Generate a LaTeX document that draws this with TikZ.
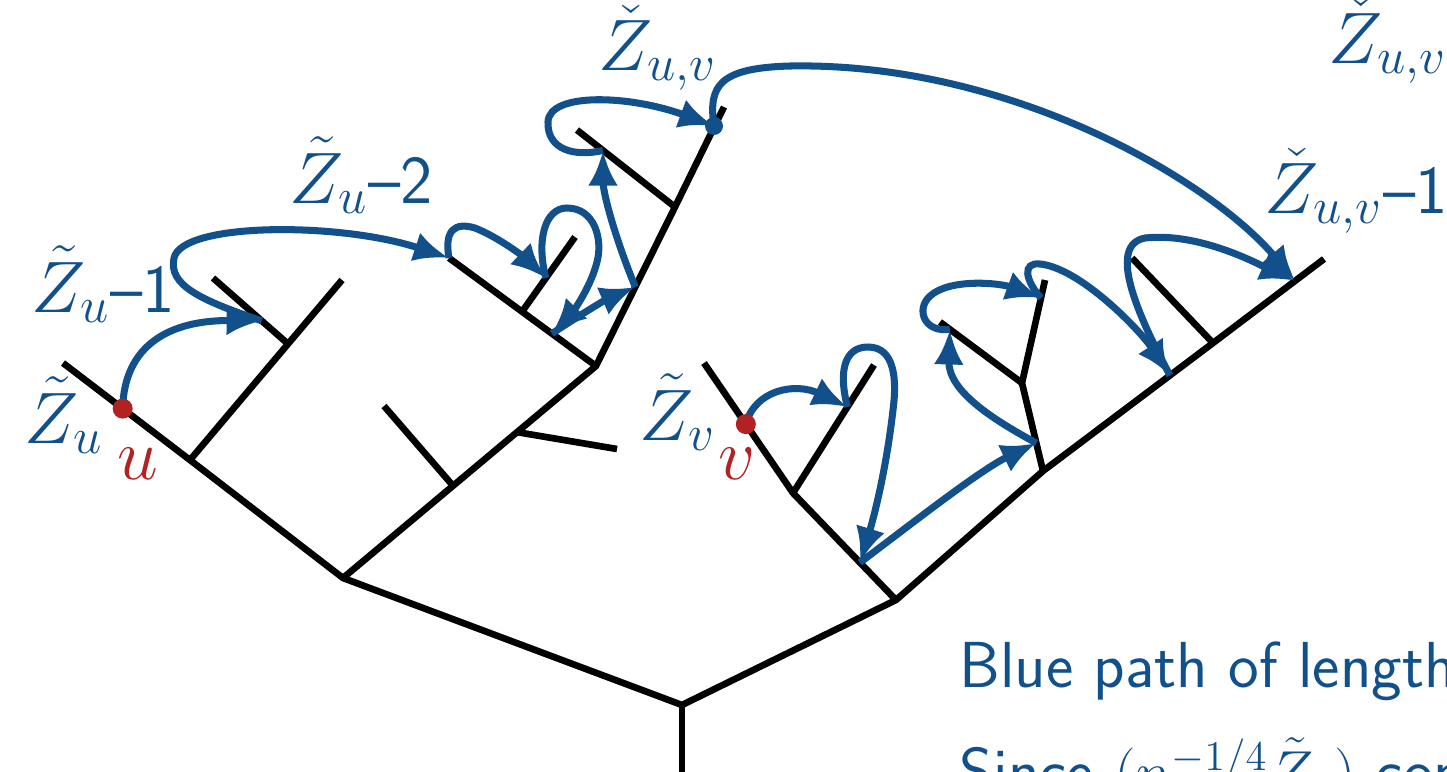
\documentclass[tikz,border=0pt]{standalone}
\usetikzlibrary{arrows.meta,calc}
\DeclareMathSizes{19.5}{19.5}{14.5}{11}
\definecolor{pblue}{RGB}{18,80,140}
\definecolor{pred}{RGB}{178,34,34}
\tikzset{
  edge/.style={line width=1.9pt, black, line join=miter},
  walk/.style={line width=2pt, pblue, -{Latex[length=10pt,width=8.5pt]}},
  lbl/.style={text=pblue, anchor=base west, inner sep=0pt, font=\fontsize{19.5}{23}\selectfont},
  rlbl/.style={text=pred, anchor=base west, inner sep=0pt, font=\fontsize{19.5}{23}\selectfont},
  txt/.style={text=pblue, anchor=base west, inner sep=0pt, font=\sffamily\fontsize{18.5}{22}\selectfont},
  rdot/.style={fill=pred, draw=none},
  bdot/.style={fill=pblue, draw=none}
}
\begin{document}
\begin{tikzpicture}[x=0.01cm,y=-0.01cm]
\useasboundingbox (0,0) rectangle (1447,772);
\clip (0,0) rectangle (1447,772);
% ---- tree coordinates (left part)
\coordinate (r0) at (682,772);
\coordinate (R) at (682,705);
\coordinate (A) at (343,578);
\coordinate (B) at (896,600);
\coordinate (Lend) at (63,363);
\coordinate (L1) at (190,460);
\coordinate (L1t) at (342,280);
\coordinate (L1b) at ($(L1)!0.645!(L1t)$);
\coordinate (L1bt) at (213,278);
\coordinate (C) at (596,366);
\coordinate (A1) at ($(A)!0.435!(C)$);
\coordinate (A1t) at (384,406);
\coordinate (A2) at ($(A)!0.688!(C)$);
\coordinate (A2t) at (617,449);
\coordinate (Cl) at (449,258);
\coordinate (C1) at ($(Cl)!0.497!(C)$);
\coordinate (C1t) at (575,237);
\coordinate (C2) at (675,207);
\coordinate (C2t) at (577,130);
\coordinate (Ctop) at (724,107);
\coordinate (zuv) at (714,126);
% ---- tree coordinates (right part)
\coordinate (B1) at (793,493);
\coordinate (Bend) at (704,363);
\coordinate (B1t) at (874,365);
\coordinate (B2) at (1043,471);
\coordinate (B3) at (1213,343);
\coordinate (Bend2) at (1324,259);
\coordinate (B4) at (1022,383);
\coordinate (B4t) at (1045,280);
\coordinate (B4l) at (940,322);
\coordinate (B3t) at (1132,258);
% ---- marked vertices
\coordinate (u) at ($(Lend)!0.47!(L1)$);
\coordinate (v) at ($(B1)!0.53!(Bend)$);
% ---- tree
\draw[edge] (Lend) -- (L1) -- (A) -- (R) -- (B) -- (B2) -- (B3) -- (Bend2);
\draw[edge] (R) -- (r0);
\draw[edge] (A) -- (A1) -- (A2) -- (C) -- (C2) -- (Ctop);
\draw[edge] (Cl) -- (C1) -- (C);
\draw[edge] (L1) -- (L1b) -- (L1t);
\draw[edge] (L1b) -- (L1bt);
\draw[edge] (A1) -- (A1t);
\draw[edge] (A2) -- (A2t);
\draw[edge] (C1) -- (C1t);
\draw[edge] (C2) -- (C2t);
\draw[edge] (B) -- (B1) -- (Bend);
\draw[edge] (B1) -- (B1t);
\draw[edge] (B2) -- (B4) -- (B4t);
\draw[edge] (B4) -- (B4l);
\draw[edge] (B3) -- (B3t);
% ---- walk points
\coordinate (a1) at ($(L1bt)!0.65!(L1b)$);
\coordinate (a3) at ($(C1)!0.45!(C1t)$);
\coordinate (a4) at ($(Cl)!0.70!(C)$);
\coordinate (a5) at ($(C)!0.497!(C2)$);
\coordinate (a6) at ($(C2t)!0.265!(C2)$);
\coordinate (a8) at ($(B3)!0.74!(Bend2)$);
\coordinate (b1) at ($(B1)!0.672!(B1t)$);
\coordinate (b2) at ($(B1)!0.65!(B)$);
\coordinate (b3) at ($(B2)!0.318!(B4)$);
\coordinate (b4) at ($(B4l)!0.12!(B4)$);
\coordinate (b5) at ($(B4)!0.825!(B4t)$);
\coordinate (b6) at ($(B2)!0.747!(B3)$);
% ---- blue walk, left
\draw[walk] (u) .. controls (124,345) and (170,320) .. (a1);
\draw[walk] (a1) .. controls (200,300) and (168,285) .. (174,258) .. controls (182,222) and (340,222) .. (Cl);
\draw[walk] (Cl) .. controls (444,230) and (455,222) .. (475,228) .. controls (500,238) and (525,258) .. (a3);
\draw[walk] (a3) .. controls (536,240) and (545,208) .. (567,208) .. controls (595,208) and (603,240) .. (597,262) .. controls (590,290) and (570,315) .. (a4);
\draw[walk] (a4) .. controls (580,315) and (605,300) .. (a5);
\draw[walk] (a5) .. controls (612,230) and (603,190) .. (a6);
\draw[walk] (a6) .. controls (575,157) and (547,150) .. (548,122) .. controls (549,92) and (630,95) .. (zuv);
\draw[walk] (zuv) .. controls (708,85) and (720,68) .. (790,66) .. controls (1010,62) and (1210,180) .. (a8);
% ---- blue walk, right
\draw[walk] (v) .. controls (755,390) and (795,382) .. (b1);
\draw[walk] (b1) .. controls (838,370) and (845,347) .. (868,347) .. controls (895,347) and (897,380) .. (893,410) .. controls (885,480) and (870,530) .. (b2);
\draw[walk] (b2) .. controls (910,525) and (980,470) .. (b3);
\draw[walk] (b3) .. controls (990,418) and (948,390) .. (b4);
\draw[walk] (b4) .. controls (925,333) and (915,310) .. (930,296) .. controls (950,278) and (1000,283) .. (b5);
\draw[walk] (b5) .. controls (1025,280) and (1022,262) .. (1040,264) .. controls (1080,268) and (1140,330) .. (b6);
\draw[walk] (b6) .. controls (1135,310) and (1108,245) .. (1145,238) .. controls (1200,232) and (1260,265) .. (a8);
% ---- dots
\fill[rdot] (u) circle (10);
\fill[rdot] (v) circle (10);
\fill[bdot] (zuv) circle (9);
% ---- labels
\node[lbl] (lZu) at (24,443) {$\tilde Z_u$};
\node[rlbl] (lu) at (117,479) {$u$};
\node[lbl] (lZu1) at (31,312) {$\tilde Z_u$\textsf{--1}};
\node[lbl] (lZu2) at (289,203) {$\tilde Z_u$\textsf{--2}};
\node[lbl] (lZuv) at (598,70) {$\check Z_{u,v}$};
\node[lbl] (lZuvR) at (1328,63) {$\check Z_{u,v}$};
\node[lbl] (lZuv1) at (1264,213) {$\check Z_{u,v}$\textsf{--1}};
\node[lbl] (lZv) at (639,440) {$\tilde Z_v$};
\node[rlbl] (lv) at (718,479) {$v$};
\node[txt] (t1) at (959,687) {Blue path of length};
\node[txt] (t2) at (959,793) {Since $(n^{-1/4}\tilde Z_{u})$ converges};
\end{tikzpicture}
\end{document}
